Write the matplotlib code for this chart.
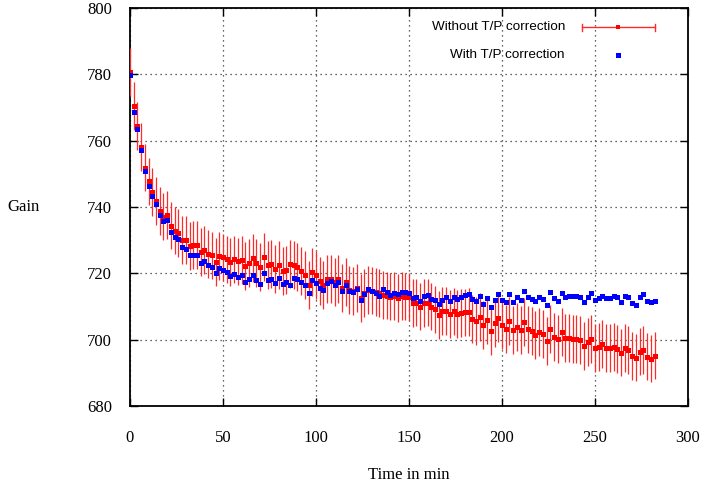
import numpy as np
import matplotlib
matplotlib.use("Agg")
import matplotlib.pyplot as plt

# ---- data ----
time_min = np.arange(0, 284, 2)

gain_without = [
    780.8, 770.5, 764.4, 758.2, 751.9, 747.7, 744.6, 741.9, 738.8, 737.1,
    737.6, 734.4, 732.9, 732.2, 730.1, 730.1, 728.3, 728.5, 728.5, 726.4,
    727.0, 725.8, 725.4, 723.4, 725.3, 724.8, 724.2, 723.4, 724.2, 723.6,
    724.0, 722.3, 723.2, 724.7, 723.2, 721.9, 724.9, 722.6, 722.8, 721.3,
    722.6, 720.6, 721.0, 722.9, 722.5, 721.9, 720.8, 719.4, 716.5, 720.3,
    719.6, 717.8, 716.5, 718.2, 718.2, 717.3, 718.2, 715.5, 717.4, 715.0,
    714.6, 715.6, 712.5, 714.0, 715.0, 714.8, 714.3, 714.0, 713.5, 713.3,
    713.0, 713.1, 712.6, 713.1, 713.0, 712.8, 711.0, 711.2, 710.0, 711.0,
    711.2, 710.0, 709.1, 707.4, 708.7, 708.6, 707.7, 708.5, 707.7, 708.0,
    708.2, 708.4, 706.3, 705.7, 706.8, 704.4, 705.9, 702.7, 705.1, 706.6,
    704.4, 703.3, 705.6, 703.0, 703.8, 702.9, 705.3, 703.1, 702.6, 701.4,
    702.4, 701.7, 699.7, 703.3, 700.9, 700.3, 702.3, 700.6, 700.6, 700.3,
    700.2, 699.9, 698.2, 699.4, 700.2, 697.6, 697.9, 698.6, 697.6, 697.4,
    697.9, 697.2, 696.1, 697.6, 696.9, 695.1, 694.6, 696.4, 696.9, 694.9,
    694.3, 695.2,
]

gain_with = [
    779.7, 768.7, 763.6, 757.3, 750.8, 746.4, 743.4, 741.0, 737.7, 735.9,
    736.2, 732.6, 731.1, 730.4, 728.0, 727.3, 725.6, 725.6, 725.6, 723.2,
    723.7, 722.6, 722.0, 720.2, 721.6, 721.0, 720.5, 719.3, 719.9, 719.0,
    719.5, 717.4, 718.3, 719.5, 718.0, 716.9, 720.2, 718.1, 718.4, 717.1,
    718.6, 716.9, 717.5, 716.5, 718.7, 718.4, 717.4, 716.6, 714.2, 718.0,
    717.2, 715.6, 715.1, 717.2, 717.7, 716.4, 717.5, 714.6, 716.6, 714.6,
    714.3, 715.4, 712.1, 713.9, 715.2, 714.7, 714.2, 713.3, 715.3, 714.5,
    713.6, 714.1, 713.7, 714.4, 714.4, 714.2, 712.7, 712.9, 711.7, 713.3,
    713.6, 712.3, 712.1, 710.7, 712.0, 713.0, 711.7, 712.9, 712.4, 712.9,
    713.4, 713.8, 712.4, 711.8, 713.3, 710.9, 712.6, 709.7, 712.0, 713.8,
    712.1, 711.4, 713.8, 711.4, 713.0, 712.1, 714.7, 713.0, 712.4, 711.8,
    713.0, 712.4, 710.6, 714.3, 712.5, 711.8, 714.2, 712.8, 713.2, 713.2,
    713.2, 713.0, 711.4, 713.0, 714.2, 712.0, 712.6, 713.2, 712.5, 712.5,
    713.3, 712.8, 711.4, 713.3, 713.0, 711.2, 710.6, 712.8, 713.9, 711.8,
    711.4, 711.8,
]

gain_err = 7.2

x_ticks = [0, 50, 100, 150, 200, 250, 300]
y_ticks = [680, 700, 720, 740, 760, 780, 800]
label_without = "Without T/P correction"
label_with = "With T/P correction"

# ---- figure ----
W, H = 703, 491
fig = plt.figure(figsize=(W / 100, H / 100), dpi=100)
L, R, T, B = 130, 688, 8, 406
ax = fig.add_axes([L / W, 1 - B / H, (R - L) / W, (B - T) / H])

serif = "Liberation Serif"
sans = "Liberation Sans"

ax.errorbar(time_min, gain_without, yerr=gain_err, fmt="s", color="#ff0000",
            ecolor="#ff2a2a", elinewidth=0.9, capsize=3.3, capthick=0.9,
            markersize=3.6, markeredgewidth=0, zorder=3)
ax.plot(time_min, gain_with, "s", color="#0000ff", markersize=3.6,
        markeredgewidth=0, zorder=4)

ax.set_xlim(0, 300)
ax.set_ylim(680, 800)
ax.set_xticks(x_ticks)
ax.set_yticks(y_ticks)
ax.set_xticklabels([str(v) for v in x_ticks], fontfamily=serif, fontsize=12)
ax.set_yticklabels([str(v) for v in y_ticks], fontfamily=serif, fontsize=12)
ax.tick_params(direction="in", length=6, width=1.0, top=True, right=True,
               color="black")
ax.tick_params(axis="x", pad=17.5)
ax.tick_params(axis="y", pad=13)
ax.grid(True, color="#333333", linestyle=(0, (1, 3)), linewidth=0.9)
for s in ax.spines.values():
    s.set_linewidth(1.3)
    s.set_color("black")

ax.set_xlabel("Time in min", fontfamily=serif, fontsize=12)
ax.xaxis.set_label_coords(0.5, (B - 475) / (B - T))
ax.xaxis.label.set_va("center")
ax.set_ylabel("Gain", fontfamily=serif, fontsize=12, rotation=0)
ax.yaxis.set_label_coords((24 - L) / (R - L), 0.5)
ax.yaxis.label.set_va("center")
ax.yaxis.label.set_ha("center")

# ---- gnuplot-style key (drawn in axes fraction) ----
def ax_xy(px, py):
    return (px - L) / (R - L), (B - py) / (B - T)

tx, ty1 = ax_xy(565, 27)
_, ty2 = ax_xy(565, 55)
ax.text(tx, ty1, label_without, transform=ax.transAxes, ha="right",
        va="center", fontfamily=sans, fontsize=9.7)
ax.text(tx, ty2, label_with, transform=ax.transAxes, ha="right",
        va="center", fontfamily=sans, fontsize=9.7)
x0, _ = ax_xy(582, 0)
x1, _ = ax_xy(655, 0)
xm, _ = ax_xy(618, 0)
ax.plot([x0, x1], [ty1, ty1], color="#ff2a2a", lw=1.0, transform=ax.transAxes,
        clip_on=False)
cap = 3.5 / (B - T)
for xx in (x0, x1):
    ax.plot([xx, xx], [ty1 - cap, ty1 + cap], color="#ff2a2a", lw=1.0,
            transform=ax.transAxes, clip_on=False)
ax.plot([xm], [ty1], "s", color="#ff0000", markersize=2.2, markeredgewidth=0,
        transform=ax.transAxes)
ax.plot([xm], [ty2], "s", color="#0000ff", markersize=3.6, markeredgewidth=0,
        transform=ax.transAxes)

fig.savefig("out.png", dpi=100)
